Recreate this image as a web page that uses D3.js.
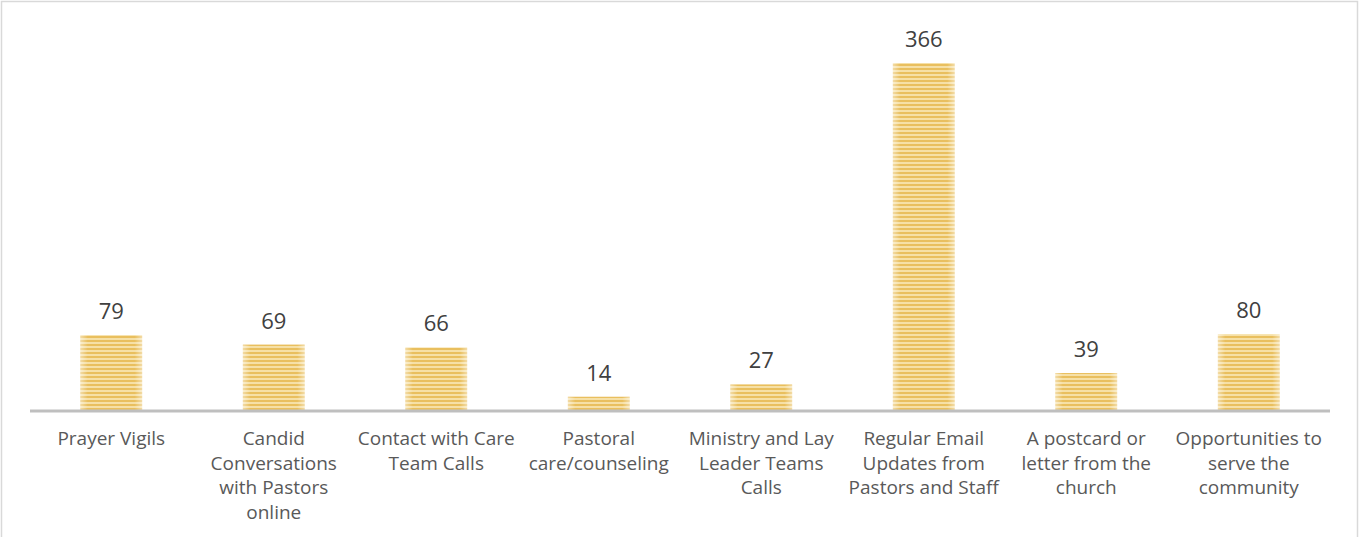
<!DOCTYPE html>
<html><head><meta charset="utf-8">
<script src="https://cdn.jsdelivr.net/npm/d3@7"></script>
<style>body{margin:0;background:#fff}svg{display:block}</style>
</head><body>
<script>
const categories = [
  ["Prayer Vigils"],
  ["Candid","Conversations","with Pastors","online"],
  ["Contact with Care","Team Calls"],
  ["Pastoral","care/counseling"],
  ["Ministry and Lay","Leader Teams","Calls"],
  ["Regular Email","Updates from","Pastors and Staff"],
  ["A postcard or","letter from the","church"],
  ["Opportunities to","serve the","community"]
];
const values = [79, 69, 66, 14, 27, 366, 39, 80];

const W = 1359, H = 537;
const svg = d3.select("body").append("svg").attr("width", W).attr("height", H);
const defs = svg.append("defs");
const pat = defs.append("pattern").attr("id","stripes").attr("patternUnits","userSpaceOnUse")
  .attr("width",8).attr("height",4);
pat.append("rect").attr("width",8).attr("height",4).attr("fill","#F6E0A6");
pat.append("rect").attr("width",8).attr("height",2).attr("fill","#E9BF5E");
const grad = defs.append("linearGradient").attr("id","edge").attr("x1","0").attr("x2","1").attr("y1","0").attr("y2","0");
grad.append("stop").attr("offset","0").attr("stop-color","#fff").attr("stop-opacity",0.45);
grad.append("stop").attr("offset","0.12").attr("stop-color","#fff").attr("stop-opacity",0);
grad.append("stop").attr("offset","0.88").attr("stop-color","#fff").attr("stop-opacity",0);
grad.append("stop").attr("offset","1").attr("stop-color","#fff").attr("stop-opacity",0.45);

// border
svg.append("rect").attr("x",1.5).attr("y",1.5).attr("width",W-3).attr("height",H+5)
  .attr("fill","none").attr("stroke","#d9d9d9").attr("stroke-width",1.5);

const x = d3.scaleBand().domain(d3.range(values.length)).range([30,1330]).paddingInner(0.62).paddingOuter(0.31);
const y = d3.scaleLinear().domain([0,366]).range([410,63]);

const g = svg.append("g");
g.selectAll("rect.bar").data(values).join("rect").attr("class","bar")
  .attr("x",(d,i)=>x(i)).attr("width",x.bandwidth())
  .attr("y",d=>y(d)).attr("height",d=>y(0)-y(d)).attr("fill","url(#stripes)");
g.selectAll("rect.edge").data(values).join("rect").attr("class","edge")
  .attr("x",(d,i)=>x(i)).attr("width",x.bandwidth())
  .attr("y",d=>y(d)).attr("height",d=>y(0)-y(d)).attr("fill","url(#edge)");

g.selectAll("text.val").data(values).join("text").attr("class","val")
  .attr("x",(d,i)=>x(i)+x.bandwidth()/2).attr("y",d=>y(d)-16)
  .attr("text-anchor","middle").attr("font-family","'Open Sans', sans-serif")
  .attr("font-size",22).attr("fill","#404040").text(d=>d);

// axis
svg.append("line").attr("x1",30).attr("x2",1330).attr("y1",y(0)+1).attr("y2",y(0)+1)
  .attr("stroke","#bfbfbf").attr("stroke-width",3);

const lab = svg.selectAll("text.cat").data(categories).join("text").attr("class","cat")
  .attr("text-anchor","middle").attr("font-family","'Open Sans', sans-serif")
  .attr("font-size",19).attr("fill","#595959")
  .attr("transform",(d,i)=>`translate(${x(i)+x.bandwidth()/2},445)`);
lab.selectAll("tspan").data(d=>d).join("tspan").attr("x",0).attr("dy",(d,j)=>j===0?0:24.5).text(d=>d);
</script>
</body></html>
